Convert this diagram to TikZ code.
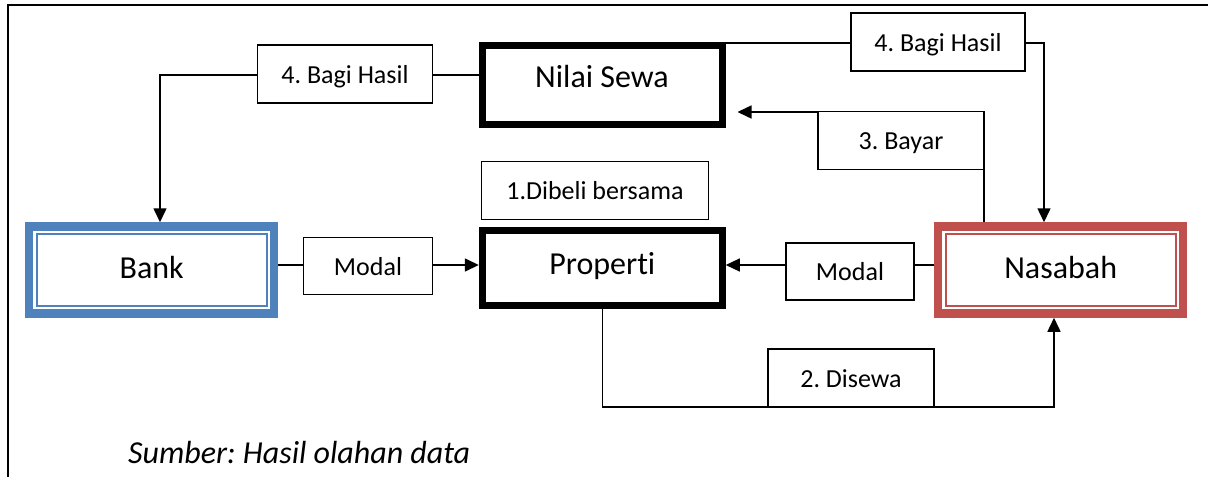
\documentclass[tikz,border=0pt]{standalone}
\usepackage{fontspec}
\setmainfont{Carlito}[Ligatures={NoCommon}]
\usetikzlibrary{arrows.meta}
\definecolor{bankblue}{HTML}{4F81BD}
\definecolor{nasred}{HTML}{C0504D}
\pgfdeclarelayer{bg}
\pgfsetlayers{bg,main}
\frenchspacing
\begin{document}
\begin{tikzpicture}[x=1pt,y=-1pt,
  mainfont/.style={font=\fontsize{32}{38}\selectfont},
  labfont/.style={font=\fontsize{26}{31}\selectfont},
  bigbox/.style={draw=black, line width=7pt, fill=white, mainfont, inner sep=0pt, minimum width=240pt},
  dblbox/.style={draw=#1, line width=8.5pt, fill=white, mainfont, inner sep=0pt, minimum width=245pt, text height=51.5pt, text depth=35.5pt},
  innerline/.style={draw=#1, line width=2pt},
  labbox/.style={draw=black, line width=1.3pt, fill=white, labfont, inner sep=0pt, text height=18pt, text depth=0pt},
  conn/.style={line width=1.5pt},
  arr/.style={conn, -{Triangle[length=14pt,width=13pt]}},
]
\useasboundingbox (0,0) rectangle (1208,477);
\draw[line width=2pt] (8,477) -- (8,5) -- (1208,5);

\node[bigbox, text height=42pt, text depth=37pt] (nilai) at (602,84.5) {Nilai Sewa};
\node[bigbox, text height=44pt, text depth=31.5pt] (prop) at (602.3,267.75) {Properti};
\node[dblbox=bankblue] (bank) at (151.7,270) {Bank};
\node[dblbox=nasred] (nas) at (1060.7,270) {Nasabah};
\draw[innerline=bankblue] ([shift={(11.75pt,-11.75pt)}]bank.north west) rectangle ([shift={(-11.75pt,11.75pt)}]bank.south east);
\draw[innerline=nasred] ([shift={(11.75pt,-11.75pt)}]nas.north west) rectangle ([shift={(-11.75pt,11.75pt)}]nas.south east);

\node[labbox, minimum width=175pt, minimum height=58pt] (bagiL) at (345,74) {4. Bagi Hasil};
\node[labbox, minimum width=174pt, minimum height=58pt] (bagiR) at (938,42) {4. Bagi Hasil};
\node[labbox, minimum width=166pt, minimum height=57.5pt] (bayar) at (901,140.5) {3. Bayar};
\node[labbox, minimum width=226.5pt, minimum height=57.5pt] (dibeli) at (595,190.5) {1.Dibeli bersama};
\node[labbox, minimum width=129.5pt, minimum height=57.5pt] (modalL) at (368,266) {Modal};
\node[labbox, minimum width=128pt, minimum height=57pt] (modalR) at (850,271.5) {Modal};
\node[labbox, minimum width=166pt, minimum height=58pt] (disewa) at (851,378) {2. Disewa};

\node[font=\fontsize{32}{38}\selectfont\itshape, anchor=base west, inner sep=0pt] (src) at (128,463) {Sumber: Hasil olahan data};

\begin{pgfonlayer}{bg}
\coordinate (c1) at (160,75);
\coordinate (c2) at (1044,43);
\coordinate (c3) at (984,112);
\coordinate (c4) at (1054,407);
\draw[arr] (c1 -| nilai.west) -- (c1) -- (c1 |- bank.north);
\draw[arr] (c2 -| nilai.east) -- (c2) -- (c2 |- nas.north);
\draw[arr] (c3 |- nas.north) -- (c3) -- ([xshift=12pt]c3 -| nilai.east);
\draw[arr] ([yshift=5pt]bank.east) -- ([yshift=5pt]bank.east -| prop.west);
\draw[arr] ([yshift=5pt]nas.west) -- ([yshift=5pt]nas.west -| prop.east);
\draw[arr] (prop.south) |- (c4) -- (c4 |- nas.south);
\end{pgfonlayer}
\end{tikzpicture}
\end{document}
